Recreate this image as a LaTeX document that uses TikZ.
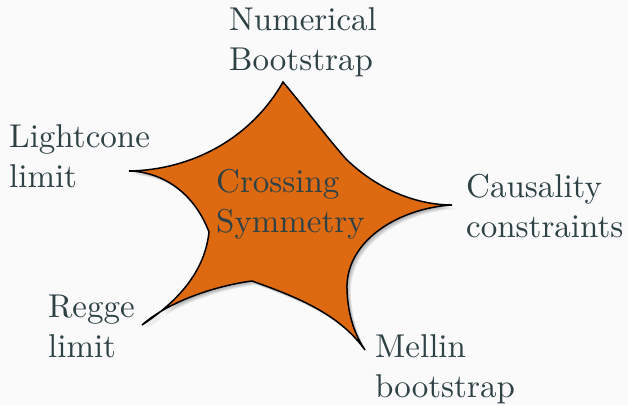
\documentclass[tikz,border=0pt]{standalone}
\usepackage{fontspec}
\setmainfont{lmroman10-regular}[Extension=.otf]
\definecolor{bgc}{RGB}{250,250,250}
\definecolor{starfill}{RGB}{221,106,16}
\definecolor{txt}{RGB}{46,66,70}
\newcommand{\mystarpath}{(283,82) .. controls (305,108) and (325,135) .. (346,159)
  .. controls (380,192) and (420,205) .. (452,205)
  .. controls (400,208) and (345,240) .. (347,290)
  .. controls (348,320) and (358,340) .. (365,350)
  .. controls (340,315) and (300,298) .. (252,281)
  .. controls (220,285) and (170,300) .. (142,325)
  .. controls (180,300) and (205,270) .. (209,232)
  .. controls (195,195) and (165,172) .. (129,171)
  .. controls (190,170) and (250,140) .. (283,82) -- cycle}
\begin{document}
\begin{tikzpicture}[x=1pt,y=-1pt,
  lbl/.style={text=txt,inner sep=0pt,anchor=base west,align=left,font=\fontsize{33}{39.5}\selectfont}]
\fill[bgc] (0,0) rectangle (628,405);
\useasboundingbox (0,0) rectangle (628,405);
\foreach \s in {1,2,3,4,5}{
  \fill[black,opacity=0.07,shift={(\s*0.8,\s*0.8)}] \mystarpath;
}
\filldraw[fill=starfill,draw=black,line width=1.5pt,line join=miter] \mystarpath;
\node[lbl] (num) at (229,70) {Numerical\\Bootstrap};
\node[lbl] (light) at (9,187) {Lightcone\\limit};
\node[lbl] (cross) at (216,232) {Crossing\\Symmetry};
\node[lbl] (caus) at (466,237) {Causality\\constraints};
\node[lbl] (regge) at (48,357) {Regge\\limit};
\node[lbl] (mell) at (375,397) {Mellin\\bootstrap};
\end{tikzpicture}
\end{document}
